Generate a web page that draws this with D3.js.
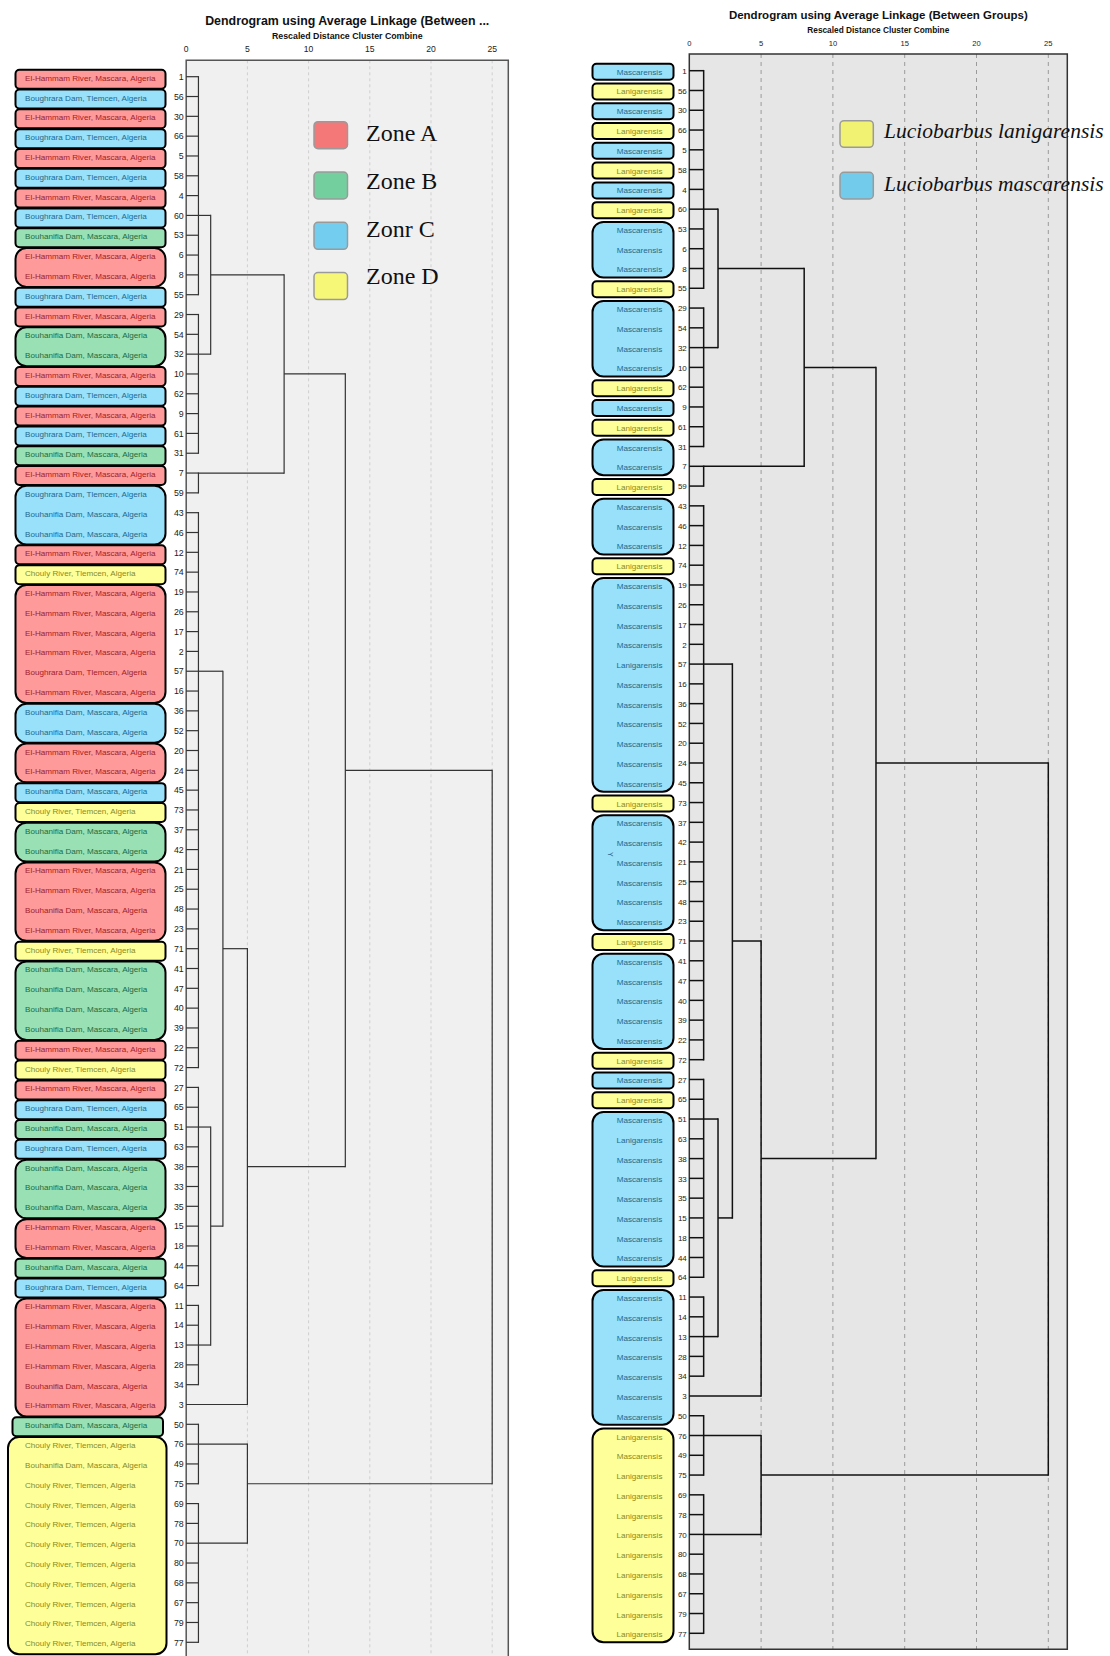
<!DOCTYPE html>
<html>
<head>
<meta charset="utf-8">
<script src="https://cdn.jsdelivr.net/npm/d3@7.9.0/dist/d3.min.js"></script>
<style>
  body { margin: 0; background: #fff; }
  svg { display: block; font-family: "Liberation Sans", Arial, sans-serif; }
</style>
</head>
<body>
<svg id="chart" width="1110" height="1656"></svg>
<script>
// case numbers, top to bottom (same order in both dendrograms)
const leafOrder = [1, 56, 30, 66, 5, 58, 4, 60, 53, 6, 8, 55, 29, 54, 32, 10, 62, 9, 61, 31,
  7, 59, 43, 46, 12, 74, 19, 26, 17, 2, 57, 16, 36, 52, 20, 24, 45, 73, 37, 42,
  21, 25, 48, 23, 71, 41, 47, 40, 39, 22, 72, 27, 65, 51, 63, 38, 33, 35, 15, 18,
  44, 64, 11, 14, 13, 28, 34, 3, 50, 76, 49, 75, 69, 78, 70, 80, 68, 67, 79, 77];

// sampling site of each row (H El-Hammam, G Boughrara, F Bouhanifia, C Chouly)
const siteCodes = ('HGHGHGHG' + 'FHHGHFFHGHGF' + 'HGFFHC' + 'HHHHGH' + 'FFHHFC' + 'FFHHFHC' +
  'FFFFHC' + 'HGFGFFFHHFG' + 'HHHHFHF' + 'CFC' + 'CCCCCCCC').split('');
// zone box drawn around each row in the left panel
const zoneCodes = ('ACACACAC' + 'B' + 'AA' + 'C' + 'A' + 'BB' + 'A' + 'C' + 'A' + 'C' + 'B' + 'A' +
  'CCC' + 'A' + 'D' + 'AAAAAA' + 'CC' + 'AA' + 'C' + 'D' + 'BB' + 'AAAA' + 'D' + 'BBBB' + 'A' +
  'D' + 'A' + 'C' + 'B' + 'C' + 'BBB' + 'AA' + 'B' + 'C' + 'AAAAAA' + 'B' + 'DDDDDDDDDDD').split('');
// species label of each row (M mascarensis, L lanigarensis)
const speciesCodes = ('MLMLMLML' + 'MMML' + 'MMMML' + 'MLMML' + 'MMML' + 'MMMMLMMMMMM' + 'L' +
  'MMMMMM' + 'L' + 'MMMMM' + 'L' + 'M' + 'L' + 'M' + 'L' + 'MMMMMM' + 'L' + 'MMMMMMM' +
  'LMLLLLLLLLL').split('');
// species box drawn around each row in the right panel
const speciesBoxCodes = ('MLMLMLML' + 'MMM' + 'L' + 'MMMM' + 'L' + 'M' + 'L' + 'MM' + 'L' + 'MMM' +
  'L' + 'MMMMMMMMMMM' + 'L' + 'MMMMMM' + 'L' + 'MMMMM' + 'L' + 'M' + 'L' + 'MMMMMMMM' + 'L' +
  'MMMMMMM' + 'LLLLLLLLLLL').split('');

const siteNames = { H: 'El-Hammam River, Mascara, Algeria', G: 'Boughrara Dam, Tlemcen, Algeria',
  F: 'Bouhanifia Dam, Mascara, Algeria', C: 'Chouly River, Tlemcen, Algeria' };
const speciesNames = { M: 'Mascarensis', L: 'Lanigarensis' };
const zoneLegend = [['A', 'Zone A'], ['B', 'Zone B'], ['C', 'Zonr C'], ['D', 'Zone D']];
const speciesLegend = [['L', 'Luciobarbus lanigarensis'], ['M', 'Luciobarbus mascarensis']];
const distanceTicks = [0, 5, 10, 15, 20, 25];

// clusters formed at distance 1: first leaf, last leaf, leaf row where the branch leaves
const leafClusters = [
  ['C1', 1, 55, 60], ['C2', 29, 31, 32], ['C3', 7, 59, 7], ['C4', 43, 72, 57],
  ['C5', 27, 64, 51], ['C6', 11, 34, 13], ['C7', 50, 75, 76], ['C8', 69, 77, 70]
];
// higher merges: node, rescaled distance, children, leaf row where the branch leaves
const merges = [
  ['D2a', 2, ['C1', 'C2'], 8],
  ['D8', 8, ['D2a', 'C3'], 10],
  ['D2b', 2, ['C5', 'C6'], 15],
  ['D3', 3, ['C4', 'D2b'], 71],
  ['D5a', 5, ['D3', 'L3'], 38],
  ['D13', 13, ['D8', 'D5a'], 24],
  ['D5b', 5, ['C7', 'C8'], 75],
  ['root', 25, ['D13', 'D5b'], null]
];

const zoneFill = { A: '#ff9a9a', B: '#99e0b4', C: '#99e0fa', D: '#ffff99' };
const zoneInk = { A: '#a01e28', B: '#1f6b3f', C: '#1f6a8c', D: '#8a8a1c' };
const zoneSwatch = { A: '#f47878', B: '#73cf9e', C: '#72cdef', D: '#f6f677' };
const speciesZone = { M: 'C', L: 'D' };
const speciesSwatch = { L: '#f2f272', M: '#72cbea' };

// flat parent table -> d3.stratify
function buildTree() {
  const parentOf = new Map();
  merges.forEach(([id, , kids]) => kids.forEach((k) => parentOf.set(k, id)));
  const rows = [];
  merges.forEach(([id, h, , exit]) => rows.push({ id, parent: parentOf.get(id) || null, h, exit }));
  leafClusters.forEach(([id, first, last, exit]) => {
    rows.push({ id, parent: parentOf.get(id), h: 1, exit });
    const a = leafOrder.indexOf(first);
    const b = leafOrder.indexOf(last);
    leafOrder.slice(a, b + 1).forEach((n) => parentOf.set('L' + n, id));
  });
  leafOrder.forEach((n) => rows.push({ id: 'L' + n, parent: parentOf.get('L' + n), h: 0, exit: n }));
  return d3.stratify().id((d) => d.id).parentId((d) => d.parent)(rows);
}

function runs(codes) {
  const out = [];
  codes.forEach((c, i) => {
    const last = out[out.length - 1];
    if (last && last.code === c) last.end = i;
    else out.push({ code: c, start: i, end: i });
  });
  return out;
}

const svg = d3.select('#chart');
const tree = buildTree();

function drawPanel(p) {
  const x = d3.scaleLinear().domain([0, 25]).range(p.xRange);
  const y = d3.scalePoint().domain(leafOrder).range(p.yRange);
  const g = svg.append('g');

  g.append('rect')
    .attr('x', p.xRange[0]).attr('y', p.top)
    .attr('width', p.right - p.xRange[0]).attr('height', p.bottom - p.top)
    .attr('fill', p.bg);

  g.selectAll('line.grid')
    .data(distanceTicks.slice(1))
    .join('line')
    .attr('x1', (d) => x(d)).attr('x2', (d) => x(d))
    .attr('y1', p.top).attr('y2', p.bottom)
    .attr('stroke', p.gridColor).attr('stroke-dasharray', p.dash).attr('stroke-width', 1);

  // frame
  const frame = d3.path();
  if (p.closed) {
    frame.rect(p.xRange[0], p.top, p.right - p.xRange[0], p.bottom - p.top);
  } else {
    frame.moveTo(p.xRange[0], p.bottom);
    frame.lineTo(p.xRange[0], p.top);
    frame.lineTo(p.right, p.top);
    frame.lineTo(p.right, p.bottom);
  }
  g.append('path').attr('d', frame.toString()).attr('fill', 'none')
    .attr('stroke', p.frameColor).attr('stroke-width', 1.5);

  g.append('text').attr('x', (p.xRange[0] + p.right) / 2).attr('y', p.titleY)
    .attr('text-anchor', 'middle').attr('font-weight', 'bold').attr('font-size', p.titleSize)
    .attr('fill', '#111').text(p.title);
  g.append('text').attr('x', (p.xRange[0] + p.right) / 2).attr('y', p.subY)
    .attr('text-anchor', 'middle').attr('font-weight', 'bold').attr('font-size', p.subSize)
    .attr('fill', '#111').text('Rescaled Distance Cluster Combine');
  g.selectAll('text.tick')
    .data(distanceTicks)
    .join('text')
    .attr('x', (d) => x(d)).attr('y', p.tickY)
    .attr('text-anchor', 'middle').attr('font-size', p.tickSize).attr('fill', '#222')
    .text((d) => d);

  // dendrogram branches
  const links = tree.links();
  g.selectAll('line.branch')
    .data(links)
    .join('line')
    .attr('x1', (d) => x(d.target.data.h)).attr('x2', (d) => x(d.source.data.h))
    .attr('y1', (d) => y(d.target.data.exit)).attr('y2', (d) => y(d.target.data.exit))
    .attr('stroke', p.lineColor).attr('stroke-width', p.lineWidth);
  g.selectAll('line.join')
    .data(tree.descendants().filter((d) => d.children))
    .join('line')
    .attr('x1', (d) => x(d.data.h)).attr('x2', (d) => x(d.data.h))
    .attr('y1', (d) => d3.min(d.children, (c) => y(c.data.exit)))
    .attr('y2', (d) => d3.max(d.children, (c) => y(c.data.exit)))
    .attr('stroke', p.lineColor).attr('stroke-width', p.lineWidth).attr('stroke-linecap', 'square');

  // case numbers
  g.selectAll('text.case')
    .data(leafOrder)
    .join('text')
    .attr('x', p.xRange[0] - 2.5).attr('y', (d) => y(d) + 3.2)
    .attr('text-anchor', 'end').attr('font-size', p.caseSize).attr('fill', '#222')
    .text((d) => d);

  // coloured label boxes
  const boxes = runs(p.boxCodes);
  const bx = (d) => p.boxXWide[d.start] || p.boxX;
  g.selectAll('rect.box')
    .data(boxes)
    .join('rect')
    .attr('x', (d) => bx(d)[0]).attr('width', (d) => bx(d)[1] - bx(d)[0])
    .attr('y', (d) => y(leafOrder[d.start]) - p.boxPad[0])
    .attr('height', (d) => y(leafOrder[d.end]) - y(leafOrder[d.start]) + p.boxPad[0] + p.boxPad[1])
    .attr('rx', (d) => (d.end > d.start ? 11 : 4))
    .attr('fill', (d) => zoneFill[p.zoneOf(d.code)])
    .attr('stroke', '#000').attr('stroke-width', 2);

  const boxCodeAt = [];
  boxes.forEach((b) => { for (let i = b.start; i <= b.end; i++) boxCodeAt[i] = b.code; });
  g.selectAll('text.label')
    .data(leafOrder)
    .join('text')
    .attr('x', p.labelX).attr('y', (d) => y(d) + 4)
    .attr('text-anchor', p.labelAnchor).attr('font-size', 8.1)
    .attr('fill', (d, i) => zoneInk[p.zoneOf(boxCodeAt[i])])
    .text((d, i) => p.labelText(i));

  return { g, x, y };
}

drawPanel({
  xRange: [186.2, 492.2], yRange: [76.7, 1642.3], right: 508.3, top: 60.3, bottom: 1662,
  bg: '#f0f0f0', gridColor: '#cfcfcf', dash: '3,3', closed: false, frameColor: '#555',
  title: 'Dendrogram using Average Linkage (Between ...', titleY: 25, titleSize: 12.4,
  subY: 38.8, subSize: 8.8, tickY: 51.5, tickSize: 8.6, caseSize: 8.8,
  lineColor: '#333', lineWidth: 1.2,
  boxCodes: zoneCodes, zoneOf: (c) => c, boxX: [15.5, 165.5],
  boxXWide: { 68: [12.5, 163], 69: [8, 166.5] }, boxPad: [7, 12],
  labelX: 25, labelAnchor: 'start', labelText: (i) => siteNames[siteCodes[i]]
});

const right = drawPanel({
  xRange: [689.3, 1048.3], yRange: [70.7, 1633.3], right: 1067.3, top: 54, bottom: 1649.3,
  bg: '#e6e6e6', gridColor: '#9a9a9a', dash: '4,4', closed: true, frameColor: '#333',
  title: 'Dendrogram using Average Linkage (Between Groups)', titleY: 18.5, titleSize: 11.5,
  subY: 33, subSize: 8.3, tickY: 45.5, tickSize: 7.6, caseSize: 8,
  lineColor: '#111', lineWidth: 1.5,
  boxCodes: speciesBoxCodes, zoneOf: (c) => speciesZone[c], boxX: [592.5, 673.5],
  boxXWide: {}, boxPad: [7, 9],
  labelX: 639.5, labelAnchor: 'middle', labelText: (i) => speciesNames[speciesCodes[i]]
});

// stray mark inside the right panel label column
right.g.append('text').attr('x', 608).attr('y', right.y(42) + 10)
  .attr('font-size', 7).attr('fill', '#1f6a8c')
  .attr('transform', `rotate(90 608 ${right.y(42) + 10})`).text('Y');

// legends
const zoneLeg = svg.append('g');
zoneLeg.selectAll('rect')
  .data(zoneLegend)
  .join('rect')
  .attr('x', 314).attr('y', (d, i) => 121.7 + i * 50.3)
  .attr('width', 33.5).attr('height', 27).attr('rx', 4)
  .attr('fill', (d) => zoneSwatch[d[0]]).attr('stroke', '#9a9a9a').attr('stroke-width', 1.5);
zoneLeg.selectAll('text')
  .data(zoneLegend)
  .join('text')
  .attr('x', 366).attr('y', (d, i) => 140.7 + i * 47.9)
  .attr('font-family', '"Liberation Serif", "Times New Roman", serif').attr('font-size', 24)
  .attr('fill', '#111').text((d) => d[1]);

const spLeg = svg.append('g');
spLeg.selectAll('rect')
  .data(speciesLegend)
  .join('rect')
  .attr('x', 840).attr('y', (d, i) => 120.7 + i * 51.6)
  .attr('width', 33.3).attr('height', 26.6).attr('rx', 4)
  .attr('fill', (d) => speciesSwatch[d[0]]).attr('stroke', '#9a9a9a').attr('stroke-width', 1.5);
spLeg.selectAll('text')
  .data(speciesLegend)
  .join('text')
  .attr('x', 884).attr('y', (d, i) => 137.5 + i * 53.3)
  .attr('font-family', '"Liberation Serif", "Times New Roman", serif').attr('font-style', 'italic')
  .attr('font-size', 21.5).attr('fill', '#111').text((d) => d[1]);
</script>
</body>
</html>
